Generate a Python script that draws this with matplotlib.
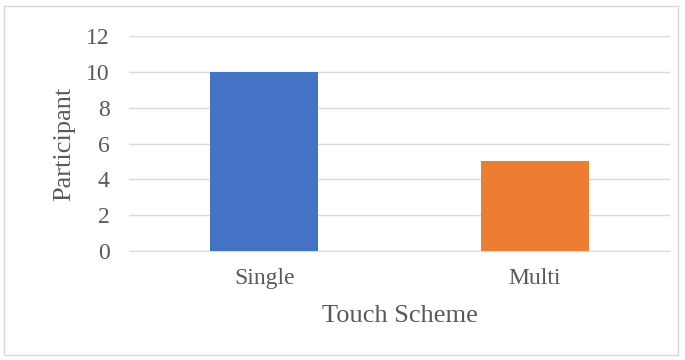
import matplotlib
matplotlib.use("Agg")
import matplotlib.pyplot as plt
from matplotlib.patches import Rectangle

categories = ["Single", "Multi"]
participants = [10, 5]
bar_colors = ["#4472C4", "#ED7D31"]
y_ticks = [0, 2, 4, 6, 8, 10, 12]

plt.rcParams["font.family"] = ["Liberation Serif", "DejaVu Serif"]
text_color = "#595959"

fig = plt.figure(figsize=(6.85, 3.6), dpi=100)
ax = fig.add_axes([129 / 685, 1 - 251 / 360, (670 - 129) / 685, (251 - 36) / 360])

# outer chart border, like an Excel chart frame
fig.patches.append(Rectangle((4 / 685, 5 / 360), 674 / 685, 349 / 360,
                             transform=fig.transFigure, fill=False,
                             edgecolor="#d9d9d9", linewidth=1))

x = range(len(categories))
ax.bar(x, participants, width=0.4, color=bar_colors, zorder=3)

ax.set_xlim(-0.5, len(categories) - 0.5)
ax.set_ylim(0, 12)
ax.set_yticks(y_ticks)
ax.set_xticks(list(x))
ax.set_xticklabels(categories)
ax.yaxis.grid(True, color="#d9d9d9", linewidth=1, zorder=0)

for side in ["top", "right", "left"]:
    ax.spines[side].set_visible(False)
ax.spines["bottom"].set_color("#d9d9d9")
ax.tick_params(axis="both", length=0, colors=text_color, labelsize=17)
ax.tick_params(axis="y", pad=14)
ax.tick_params(axis="x", pad=12)

ax.set_xlabel("Touch Scheme", fontsize=19, color=text_color, labelpad=12)
ax.set_ylabel("Participant", fontsize=19, color=text_color, labelpad=8)

fig.savefig("out.png", dpi=100)
